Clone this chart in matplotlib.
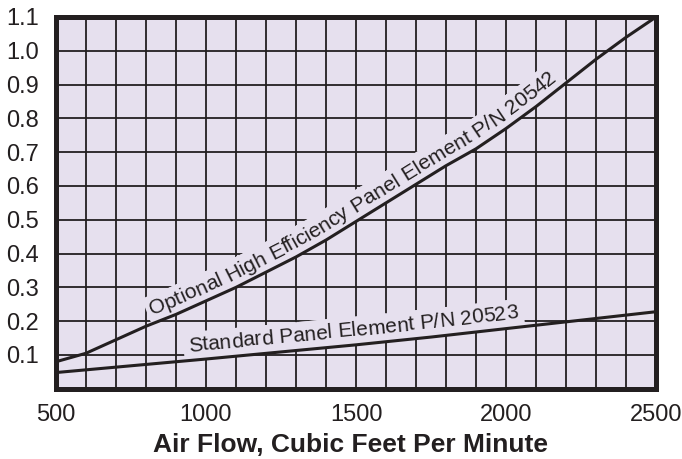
import numpy as np
import matplotlib.pyplot as plt
from matplotlib.transforms import IdentityTransform

plt.rcParams['font.family'] = ['Liberation Sans', 'DejaVu Sans']

# --- Data ---
airflow = [500, 600, 700, 800, 900, 1000, 1100, 1200, 1300, 1400, 1500,
           1600, 1700, 1800, 1900, 2000, 2100, 2200, 2300, 2400, 2500]
high_eff = [0.080, 0.105, 0.145, 0.185, 0.220, 0.260, 0.300, 0.345, 0.390, 0.440, 0.495,
            0.550, 0.605, 0.660, 0.710, 0.770, 0.835, 0.905, 0.975, 1.040, 1.100]

std_airflow = [500, 750, 1000, 1250, 1500, 1750, 2000, 2250, 2500]
standard = [0.048, 0.068, 0.088, 0.109, 0.130, 0.153, 0.178, 0.203, 0.228]

x_ticks = [500, 1000, 1500, 2000, 2500]
x_grid = list(range(500, 2501, 100))
y_ticks = [0.1, 0.2, 0.3, 0.4, 0.5, 0.6, 0.7, 0.8, 0.9, 1.0, 1.1]
y_tick_labels = ["0.1", "0.2", "0.3", "0.4", "0.5", "0.6", "0.7", "0.8", "0.9", "1.0", "1.1"]

high_label = "Optional High Efficiency Panel Element P/N 20542"
std_label = "Standard Panel Element P/N 20523"

ink = "#231f20"
bg = "#e6e0ee"

# --- Plot ---
fig = plt.figure(figsize=(6.82, 4.59), dpi=100)
ax = fig.add_axes([0.082, 0.153, 0.880, 0.810])
ax.set_facecolor(bg)

ax.plot(airflow, high_eff, color=ink, lw=2.2, zorder=3, solid_capstyle='butt')
ax.plot(std_airflow, standard, color=ink, lw=2.2, zorder=3, solid_capstyle='butt')

ax.set_xlim(500, 2500)
ax.set_ylim(0, 1.1)
ax.set_xticks(x_ticks)
ax.set_xticks(x_grid, minor=True)
ax.set_yticks(y_ticks)
ax.set_yticklabels(y_tick_labels)
ax.set_axisbelow(True)
ax.grid(which='both', color=ink, lw=1.3)
ax.tick_params(which='both', length=0, labelsize=17, colors=ink)
ax.tick_params(axis='y', pad=12)
ax.tick_params(axis='x', pad=11)
for s in ax.spines.values():
    s.set_linewidth(3.6)
    s.set_color(ink)
    s.set_zorder(4)

ax.set_xlabel("Air Flow, Cubic Feet Per Minute", fontsize=19, fontweight='bold',
              color=ink)
ax.xaxis.set_label_coords(0.49, -0.118)


# --- Labels that follow the curves ---
def curved_label(xs, ys, text, start_x, offset, size):
    fig.canvas.draw()
    r = fig.canvas.get_renderer()
    pts = ax.transData.transform(np.column_stack([xs, ys]))
    seg = np.diff(pts, axis=0)
    seglen = np.hypot(seg[:, 0], seg[:, 1])
    cum = np.concatenate([[0], np.cumsum(seglen)])
    s0 = np.interp(ax.transData.transform((start_x, 0))[0], pts[:, 0], cum)

    def width(t):
        tt = ax.text(0, 0, t, fontsize=size, transform=IdentityTransform())
        w = tt.get_window_extent(r).width
        tt.remove()
        return w

    wn = width("n")
    for k, ch in enumerate(text):
        if ch == " ":
            w_ch = wn * 0.55
            right = width(text[:k] + "n") - wn + w_ch
        else:
            w_ch = width(ch)
            right = width(text[:k + 1])
        mid = s0 + right - w_ch / 2
        i = int(np.clip(np.searchsorted(cum, mid) - 1, 0, len(seg) - 1))
        p = pts[i] + (mid - cum[i]) / seglen[i] * seg[i]
        ang = np.arctan2(seg[i, 1], seg[i, 0])
        p = p + offset * np.array([-np.sin(ang), np.cos(ang)])
        kw = dict(fontsize=size, rotation=np.degrees(ang), rotation_mode='anchor',
                  ha='center', va='baseline', transform=IdentityTransform())
        # background patch that breaks the grid behind the text
        ax.text(p[0], p[1], "H", color=bg, zorder=2.0,
                bbox=dict(facecolor=bg, edgecolor='none', boxstyle='square,pad=0.2'), **kw)
        if ch != " ":
            ax.text(p[0], p[1], ch, color=ink, zorder=2.2, **kw)


curved_label(airflow, high_eff, high_label, 830, 8, 15.2)
curved_label(std_airflow, standard, std_label, 945, 9, 15.0)

fig.savefig("out.png", dpi=100)
